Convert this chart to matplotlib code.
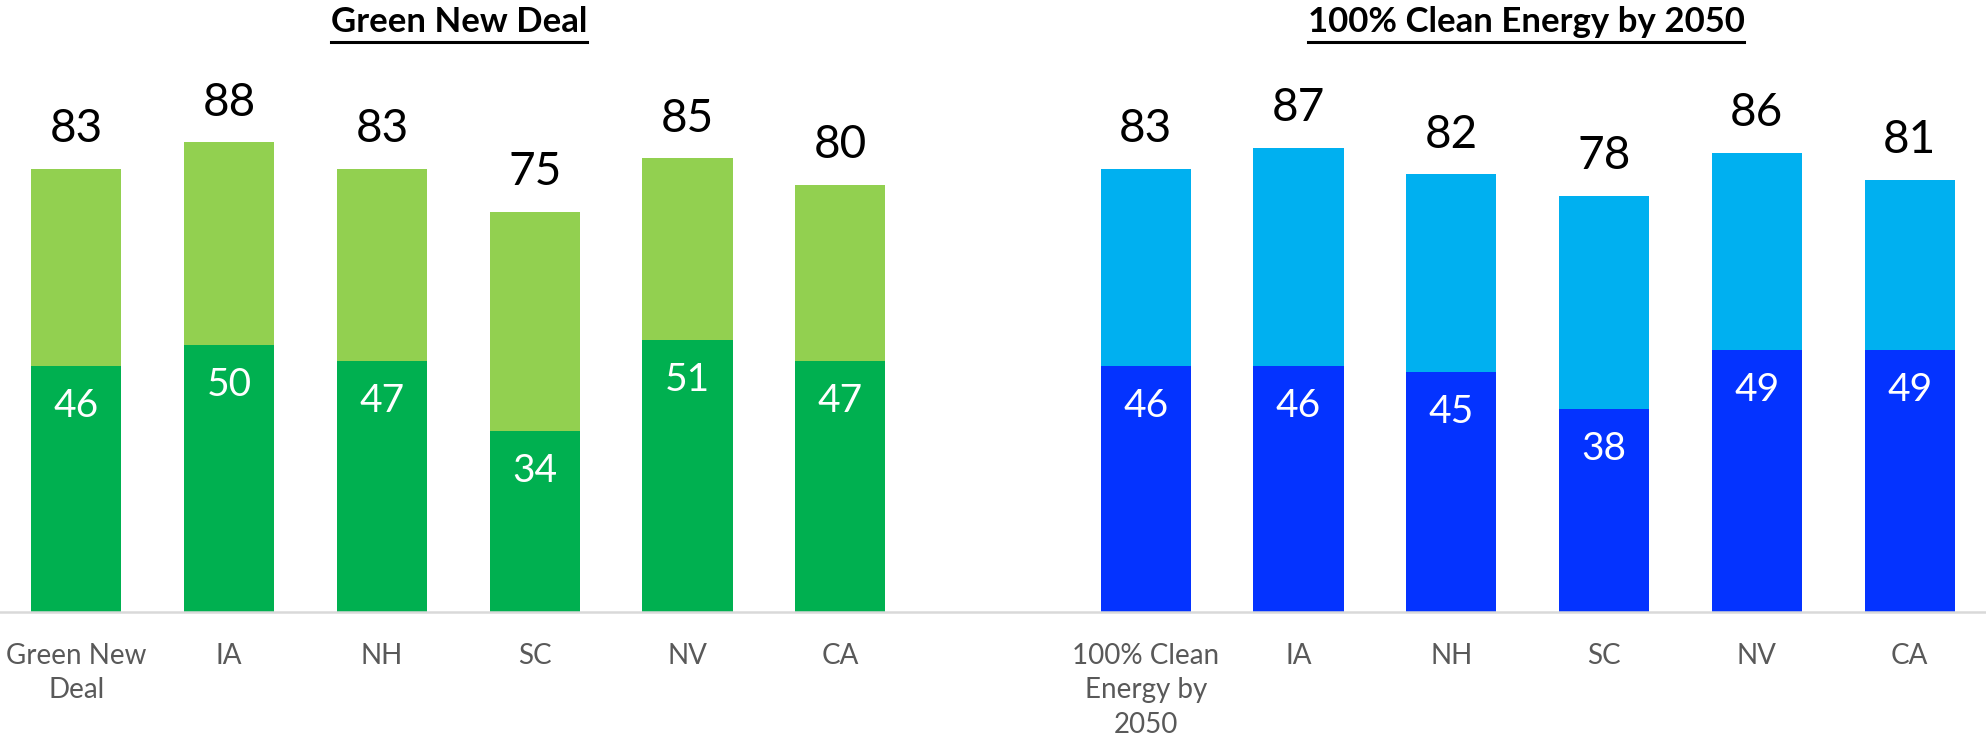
import matplotlib
matplotlib.use("Agg")
import matplotlib.pyplot as plt
from matplotlib.lines import Line2D

plt.rcParams['font.family'] = ['Lato', 'DejaVu Sans']

# data
gnd_labels = ["Green New\nDeal", "IA", "NH", "SC", "NV", "CA"]
gnd_total = [83, 88, 83, 75, 85, 80]
gnd_strong = [46, 50, 47, 34, 51, 47]

ce_labels = ["100% Clean\nEnergy by\n2050", "IA", "NH", "SC", "NV", "CA"]
ce_total = [83, 87, 82, 78, 86, 81]
ce_strong = [46, 46, 45, 38, 49, 49]

# one long axis, with an empty slot between the two groups
gnd_x = list(range(len(gnd_labels)))
ce_x = [i + len(gnd_labels) + 1 for i in range(len(ce_labels))]

fig = plt.figure(figsize=(19.86, 7.43), dpi=100, facecolor='white')
ax = fig.add_axes([0, 131 / 743, 1, 533.7 / 743])

w = 0.59
ax.bar(gnd_x, gnd_total, width=w, color='#92D050', zorder=2)
ax.bar(gnd_x, gnd_strong, width=w, color='#00B050', zorder=3)
ax.bar(ce_x, ce_total, width=w, color='#00B0F0', zorder=2)
ax.bar(ce_x, ce_strong, width=w, color='#0433FF', zorder=3)

for xs, tot, st in [(gnd_x, gnd_total, gnd_strong), (ce_x, ce_total, ce_strong)]:
    for x, t, s in zip(xs, tot, st):
        ax.annotate(str(t), (x, t), xytext=(0, 28.5), textcoords='offset points',
                    ha='center', va='center', fontsize=33, color='black')
        ax.annotate(str(s), (x, s), xytext=(0, -28.8), textcoords='offset points',
                    ha='center', va='center', fontsize=28, color='white', zorder=4)

ax.set_xlim(-0.5, len(gnd_labels) + len(ce_labels) + 0.5)
ax.set_ylim(0, 100)
ax.set_xticks(gnd_x + ce_x)
ax.set_xticklabels(gnd_labels + ce_labels, fontsize=20, color='#595959', linespacing=1.42)
ax.tick_params(axis='x', length=0, pad=22)
ax.set_yticks([])
for s in ['top', 'left', 'right']:
    ax.spines[s].set_visible(False)
ax.spines['bottom'].set_color('#D9D9D9')
ax.spines['bottom'].set_linewidth(1.8)
ax.spines['bottom'].set_zorder(5)

# underlined titles
titles = [("Green New Deal", 459 / 1986), ("100% Clean Energy by 2050", 1526 / 1986)]
texts = []
for t, x in titles:
    texts.append(fig.text(x, 1 - 22.5 / 743, t, ha='center', va='center',
                          fontsize=25, fontweight='bold', color='black'))
fig.canvas.draw()
r = fig.canvas.get_renderer()
for tx in texts:
    bb = tx.get_window_extent(r)
    x0, x1 = bb.x0 / fig.bbox.width, bb.x1 / fig.bbox.width
    y = 1 - 42 / 743
    fig.add_artist(Line2D([x0, x1], [y, y], color='black', linewidth=2.2,
                          transform=fig.transFigure))

fig.savefig('out.png', dpi=100, facecolor='white')
